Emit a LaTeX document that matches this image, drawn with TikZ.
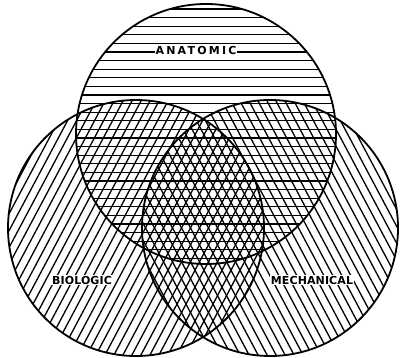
\documentclass[tikz,border=0pt]{standalone}
\usepackage{fontspec}
\newfontfamily\labfont[LetterSpace=1]{DejaVu Sans}
\newfontfamily\toplabfont[LetterSpace=20]{DejaVu Sans}
\begin{document}
\begin{tikzpicture}[x=1pt,y=-1pt,
  hatch/.style={line width=1.3pt,black},
  rim/.style={line width=1.8pt,black},
  lab/.style={fill=white,inner sep=1pt,font=\labfont\fontsize{11}{11}\selectfont\bfseries}]
\useasboundingbox (0,0) rectangle (401,358);
% circle centres
\coordinate (cA) at (206,134);
\coordinate (cB) at (136,228);
\coordinate (cM) at (270,228);
% top circle: horizontal hatching
\begin{scope}
  \clip (cA) circle (130);
  \foreach \k in {-6,...,26} \draw[hatch] (60,52+8.6*\k) -- (350,52+8.6*\k);
\end{scope}
% left circle: / hatching
\begin{scope}
  \clip (cB) circle (128);
  \foreach \k in {-40,...,45} \draw[hatch] (9*\k,400) -- ++(212.7,-400);
\end{scope}
% right circle: \ hatching
\begin{scope}
  \clip (cM) circle (128);
  \foreach \k in {0,...,80} \draw[hatch] (9*\k+3,400) -- ++(-212.7,-400);
\end{scope}
% outlines
\draw[rim] (cA) circle (130);
\draw[rim] (cB) circle (128);
\draw[rim] (cM) circle (128);
% labels
\node[lab,font=\toplabfont\fontsize{11}{11}\selectfont\bfseries] (anat) at (196,50) {ANATOMIC};
\node[lab] (bio) at (82,280) {BIOLOGIC};
\node[lab] (mech) at (312,280) {MECHANICAL};
\end{tikzpicture}
\end{document}
